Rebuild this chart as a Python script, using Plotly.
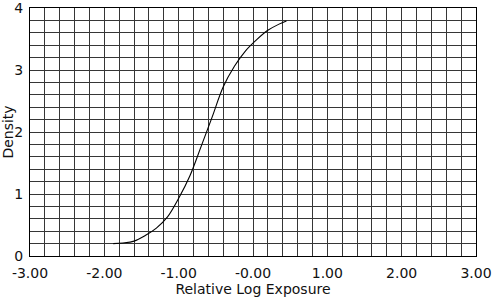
import plotly.graph_objects as go

log_exposure = [-1.88, -1.75, -1.6, -1.45, -1.3, -1.15, -1.0, -0.85, -0.7, -0.55,
                -0.4, -0.25, -0.1, 0.05, 0.2, 0.35, 0.45]
density = [0.20, 0.21, 0.24, 0.33, 0.45, 0.63, 0.93, 1.29, 1.76, 2.24,
           2.73, 3.06, 3.31, 3.49, 3.64, 3.74, 3.79]

x_tickvals = [-3, -2, -1, 0, 1, 2, 3]
x_ticktext = ["-3.00", "-2.00", "-1.00", "-0.00", "1.00", "2.00", "3.00"]
y_tickvals = [0, 1, 2, 3, 4]
y_ticktext = ["0", "1", "2", "3", "4"]

grid_color = "#363636"
font = dict(family="DejaVu Sans, sans-serif", size=14, color="#111")

fig = go.Figure()
fig.add_trace(go.Scatter(x=log_exposure, y=density, mode="lines",
                         line=dict(color="black", width=1.1, shape="spline"),
                         showlegend=False, hoverinfo="skip"))

fig.update_layout(
    width=494, height=297,
    margin=dict(l=30, r=18, t=8, b=41),
    paper_bgcolor="white", plot_bgcolor="white",
    font=font,
    xaxis=dict(range=[-3, 3], tickmode="array", tickvals=x_tickvals, ticktext=x_ticktext,
               showgrid=True, gridcolor=grid_color, gridwidth=1,
               minor=dict(dtick=0.2, tick0=-3, showgrid=True, gridcolor=grid_color, gridwidth=1),
               showline=True, linecolor="black", linewidth=1, mirror=True,
               zeroline=False, ticks="", ticklabelstandoff=4, automargin=False,
               ticklabeloverflow="allow",
               title=dict(text="Relative Log Exposure", standoff=0, font=font)),
    yaxis=dict(range=[0, 4], tickmode="array", tickvals=y_tickvals, ticktext=y_ticktext,
               showgrid=True, gridcolor=grid_color, gridwidth=1,
               minor=dict(dtick=0.2, tick0=0, showgrid=True, gridcolor=grid_color, gridwidth=1),
               showline=True, linecolor="black", linewidth=1, mirror=True,
               zeroline=False, ticks="", ticklabelstandoff=3, automargin=False,
               ticklabeloverflow="allow",
               title=dict(text="Density", standoff=0, font=font)),
)

fig.write_html("out.html")
